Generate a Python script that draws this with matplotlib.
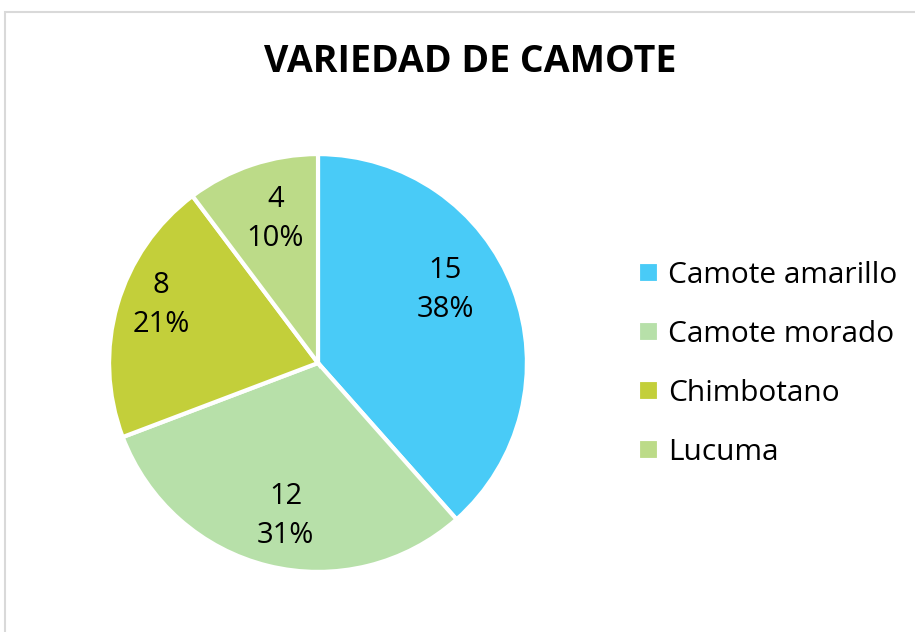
import numpy as np
import matplotlib.pyplot as plt
from matplotlib.patches import Rectangle

# data
categories = ['Camote amarillo', 'Camote morado', 'Chimbotano', 'Lucuma']
values = [15, 12, 8, 4]
colors = ['#49CBF7', '#B7E0A9', '#C3CF3A', '#BCDB88']

# label placement (radius fraction, angle nudge in degrees) like excel's best fit
label_r = [0.70, 0.75, 0.80, 0.72]
label_da = [9, 2, -4, -2]

plt.rcParams['font.family'] = ['Open Sans', 'DejaVu Sans']

fig = plt.figure(figsize=(9.15, 6.32), dpi=100)

# chart border
fig.patches.append(Rectangle((5 / 915, -0.1), 1.0, 1.1 - 12 / 632, transform=fig.transFigure,
                             fill=False, edgecolor='#D9D9D9', linewidth=1.5))

ax = fig.add_axes([107 / 915, 58 / 632, 422 / 915, 422 / 632])

total = sum(values)


def fmt(pct):
    n = int(round(pct * total / 100.0))
    return '{}\n{:.0f}%'.format(n, pct)


wedges, texts, autotexts = ax.pie(values, colors=colors, startangle=90, counterclock=False,
                                  autopct=fmt, pctdistance=0.74,
                                  wedgeprops=dict(edgecolor='white', linewidth=3),
                                  textprops=dict(fontsize=21, color='black', linespacing=1.45))
for w, t, r, da in zip(wedges, autotexts, label_r, label_da):
    ang = np.deg2rad((w.theta1 + w.theta2) / 2 + da)
    t.set_position((r * np.cos(ang), r * np.sin(ang)))

ax.set_xlim(-1.01, 1.01)
ax.set_ylim(-1.01, 1.01)
ax.set_aspect('equal')

fig.text(470 / 915, 1 - 62 / 632, 'VARIEDAD DE CAMOTE', ha='center', va='center',
         fontsize=27, fontweight='bold')

ax.legend(wedges, categories, loc='center left', bbox_to_anchor=(638 / 915, 1 - 364 / 632),
          bbox_transform=fig.transFigure, frameon=False, fontsize=21.5,
          handlelength=0.7, handleheight=0.7, handletextpad=0.3,
          labelspacing=1.0, borderpad=0, borderaxespad=0)

plt.savefig('out.png', dpi=100)
